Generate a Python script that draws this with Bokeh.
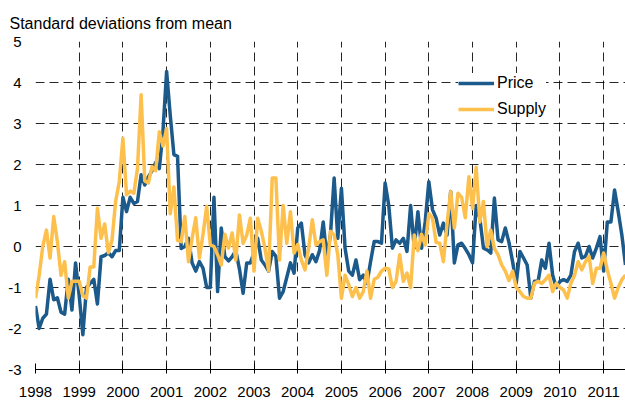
from bokeh.plotting import figure
from bokeh.models import FixedTicker, Legend, LegendItem, Range1d
from bokeh.embed import file_html
from bokeh.resources import INLINE

# ---- data (monthly, Jan 1998 onwards) ----
start_year = 1998
price = [
    -1.45, -2.0, -1.75, -1.65, -0.8, -1.3, -1.25, -1.6, -1.65, -0.8, -1.55, -0.4,
    -1.2, -2.15, -1.0, -0.9, -0.8, -1.4, -0.25, -0.22, -0.15, -0.25, -0.1, -0.1,
    1.2, 0.85, 1.2, 1.05, 1.1, 1.75, 1.5, 1.7, 1.85, 2.05, 1.9, 2.8,
    4.27, 3.2, 2.24, 2.2, -0.05, 0.0, 0.2, -0.4, -0.6, -0.37, -0.53, -1.0,
    -1.0, 1.2, -1.1, 0.45, -0.25, -0.35, -0.25, -0.1, -0.55, -1.14, -0.4, -0.4,
    -0.15, 0.2, -0.33, -0.45, -0.6, -0.12, -0.24, -1.26, -1.1, -0.75, -0.4, -0.65,
    0.45, 0.57, -0.2, -0.4, -0.2, -0.37, -0.1, 0.6, -0.28, 0.3, 1.67, 0.2,
    1.42, -0.04, -0.6, -0.7, -0.33, -0.81, -0.7, -0.9, -0.37, 0.12, 0.12, 0.08,
    1.55, 1.0, -0.04, 0.16, 0.08, 0.2, -0.12, 1.0, -0.04, 0.85, -0.04, 0.6,
    1.58, 0.9, 0.69, 0.28, 0.57, 0.28, 1.34, -0.4, 0.04, 0.08, -0.05, -0.2,
    -0.4, 1.0, 0.69, -0.04, -0.08, -0.16, 1.18, 0.16, 0.12, 0.45, 0.1, -0.37,
    -0.9, -0.12, -0.28, -0.45, -1.26, -0.85, -0.85, -0.33, -0.53, 0.08, -0.7, -1.0,
    -0.85, -0.81, -0.85, -0.7, -0.12, 0.08, -0.28, -0.24, 0.0, -0.28, -0.04, 0.24,
    -0.6, 0.6, 0.6, 1.38, 0.85, 0.28, -0.45,
]
supply = [
    -1.26, -0.7, 0.0, 0.4, -0.28, 0.73, 0.12, -0.7, -0.37, -1.26, -0.85, -0.85,
    -0.85, -1.2, -1.26, -0.5, -0.5, 0.93, 0.2, 0.55, -0.15, 0.15, 1.1, 1.58,
    2.64, 1.26, 1.35, 1.3, 1.9, 3.7, 1.6, 1.55, 1.95, 1.85, 2.8, 2.45,
    2.88, 0.8, 1.45, 0.15, 0.12, 0.73, -0.37, 0.2, 0.7, -0.28, 0.3, 0.98,
    0.04, 0.0, -0.2, -0.45, 0.3, -0.04, 0.33, -0.33, 0.77, 0.08, 0.28, 0.69,
    -0.6, 0.69, 0.37, -0.04, -0.6, 1.67, 1.67, -0.33, 1.0, 0.08, 0.85, -0.16,
    0.05, -0.33, -0.57, -0.04, 0.65, 0.04, 0.12, 0.16, -0.7, 0.37, 0.28, -0.2,
    -1.26, -0.7, -0.93, -1.22, -1.0, -1.26, -1.1, -0.6, -1.26, -0.8, -0.75, -0.6,
    -0.53, -0.55, -1.0, -0.85, -0.2, -0.85, -0.65, -1.0, 0.28, -0.1, 0.3, 0.04,
    0.8, 0.69, 0.1, 0.08, -0.37, 0.55, 1.34, 0.45, 1.3, 1.2, 0.7, 1.7,
    0.93, 1.93, 0.6, 1.1, 0.0, 0.4, -0.05, -0.2, -0.45, -0.6, -0.83, -0.6,
    -1.0, -1.1, -1.22, -1.26, -1.26, -0.9, -0.85, -0.9, -0.81, -0.7, -1.1, -0.9,
    -1.0, -1.06, -1.26, -0.9, -0.7, -0.37, -0.57, -0.37, -0.24, -0.9, -0.53, -0.53,
    -0.16, -0.57, -0.9, -1.26, -1.0, -0.81, -0.7,
]
series_names = ["Price", "Supply"]
year_ticks = list(range(1998, 2012))
y_ticks = list(range(-3, 6))
y_label_text = "Standard deviations from mean"

x = [start_year + i / 12 for i in range(len(price))]

BLUE = "#1b5a8b"
YELLOW = "#fec04c"
FONT = "Liberation Sans"

p = figure(width=625, height=401, output_backend="svg", toolbar_location=None,
           title=y_label_text,
           x_range=Range1d(1998, 2011.5), y_range=Range1d(-3, 5),
           min_border_left=35, min_border_right=0, min_border_top=41,
           min_border_bottom=32)
p.outline_line_color = None
p.background_fill_color = "white"
p.border_fill_color = "white"

p.title.align = "left"
p.title.offset = -26
p.title.standoff = 19
p.title.text_font = FONT
p.title.text_font_size = "16px"
p.title.text_font_style = "normal"
p.title.text_color = "black"

# x axis
p.xaxis.ticker = FixedTicker(ticks=year_ticks)
p.xaxis.major_label_overrides = {t: str(t) for t in year_ticks}
p.xaxis.axis_line_color = "black"
p.xaxis.axis_line_width = 1
p.xaxis.major_tick_line_color = "black"
p.xaxis.major_tick_in = 6
p.xaxis.major_tick_out = 4
p.xaxis.minor_tick_line_color = None
p.xaxis.major_label_standoff = 13
p.xaxis.major_label_text_font = FONT
p.xaxis.major_label_text_font_size = "15px"
p.xaxis.major_label_text_color = "black"

# y axis
p.yaxis.ticker = FixedTicker(ticks=y_ticks)
p.yaxis.major_label_overrides = {t: str(t) for t in y_ticks}
p.yaxis.axis_line_color = None
p.yaxis.major_tick_line_color = None
p.yaxis.major_tick_in = 0
p.yaxis.major_tick_out = 0
p.yaxis.minor_tick_line_color = None
p.yaxis.major_label_standoff = 14
p.yaxis.major_label_text_font = FONT
p.yaxis.major_label_text_font_size = "15px"
p.yaxis.major_label_text_color = "black"

# grids
p.xgrid.ticker = FixedTicker(ticks=year_ticks)
p.ygrid.ticker = FixedTicker(ticks=y_ticks)
for g in (p.xgrid, p.ygrid):
    g.grid_line_color = "black"
    g.grid_line_alpha = 0.85
    g.grid_line_width = 1
    g.grid_line_dash = "9 5"

r1 = p.line(x, price, line_color=BLUE, line_width=3.5, line_join="round")
r2 = p.line(x, supply, line_color=YELLOW, line_width=3.5, line_join="round")

legend = Legend(items=[LegendItem(label=series_names[0], renderers=[r1]),
                       LegendItem(label=series_names[1], renderers=[r2])],
                location=(423, 250),
                glyph_width=36, glyph_height=20, label_standoff=3,
                padding=5, spacing=6, margin=0,
                label_text_font=FONT, label_text_font_size="16px",
                label_text_color="black",
                background_fill_color="white", background_fill_alpha=1.0,
                border_line_color=None)
p.add_layout(legend)

open("out.html", "w").write(file_html(p, INLINE))
